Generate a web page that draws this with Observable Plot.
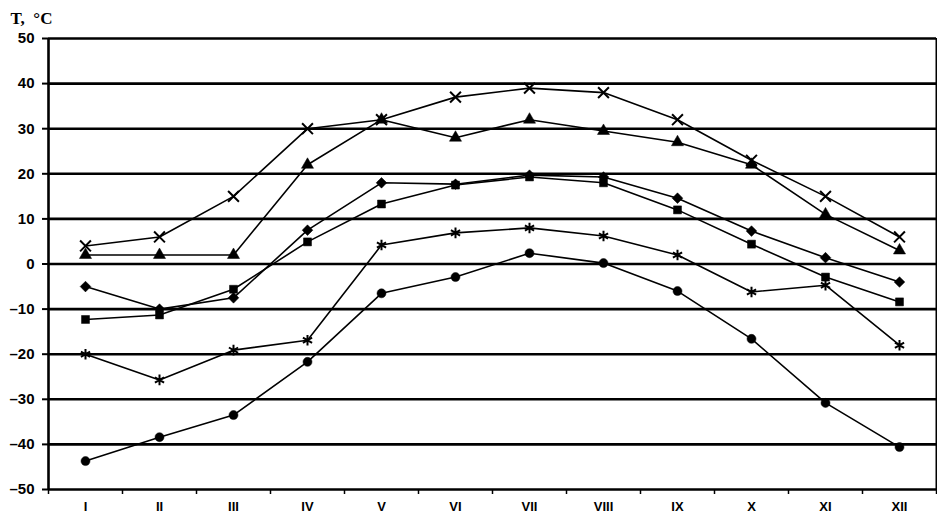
<!DOCTYPE html>
<html>
<head>
<meta charset="utf-8">
<script src="https://cdn.jsdelivr.net/npm/d3@7"></script>
<script src="https://cdn.jsdelivr.net/npm/@observablehq/plot@0.6"></script>
<style>
  html, body { margin: 0; padding: 0; background: #fff; }
  svg { display: block; }
</style>
</head>
<body>
<div id="chart"></div>
<script>
const months = ["I","II","III","IV","V","VI","VII","VIII","IX","X","XI","XII"];
const yTicks = [-50,-40,-30,-20,-10,0,10,20,30,40,50];
const timesSeries    = [4, 6, 15, 30, 32, 37, 39, 38, 32, 23, 15, 6];
const triangleSeries = [2, 2, 2, 22, 32, 28, 32, 29.5, 27, 22, 11, 3];
const diamondSeries  = [-5, -10, -7.5, 7.5, 18, 17.7, 19.7, 19.3, 14.6, 7.3, 1.4, -4];
const squareSeries   = [-12.3, -11.3, -5.6, 4.9, 13.3, 17.5, 19.3, 18, 12, 4.4, -2.9, -8.4];
const asteriskSeries = [-20, -25.7, -19.1, -16.9, 4.2, 6.9, 8, 6.2, 2, -6.2, -4.7, -18];
const circleSeries   = [-43.7, -38.4, -33.5, -21.7, -6.5, -2.9, 2.4, 0.2, -6, -16.6, -30.8, -40.6];

const seriesDefs = [
  {name: "times", values: timesSeries, symbol: "times", filled: false, r: 5},
  {name: "triangle", values: triangleSeries, symbol: "triangle", filled: true, r: 4.5},
  {name: "diamond", values: diamondSeries, symbol: "diamond2", filled: true, r: 4.8},
  {name: "square", values: squareSeries, symbol: "square", filled: true, r: 4.5},
  {name: "asterisk", values: asteriskSeries, symbol: "asterisk", filled: false, r: 5},
  {name: "circle", values: circleSeries, symbol: "circle", filled: true, r: 4.5}
];

const monthIdx = months.map((m, i) => i + 1);
const bounds = d3.range(0, 13).map(i => i + 0.5);

const marks = [];
// gridlines
marks.push(Plot.ruleY(yTicks, {stroke: "#000", strokeWidth: 2.6}));
// frame verticals
marks.push(Plot.ruleX([0.5], {stroke: "#000", strokeWidth: 2.6}));
marks.push(Plot.ruleX([12.5], {stroke: "#000", strokeWidth: 2}));

for (const s of seriesDefs) {
  const data = s.values.map((v, i) => ({m: i + 1, v}));
  marks.push(Plot.line(data, {x: "m", y: "v", stroke: "#000", strokeWidth: 1.6}));
  marks.push(Plot.dot(data, {
    x: "m", y: "v", symbol: () => s.symbol, r: s.r,
    fill: s.filled ? "#000" : "none",
    stroke: "#000", strokeWidth: s.filled ? 0.5 : 2
  }));
}

// axes
marks.push(Plot.axisY(yTicks, {
  tickSize: 6, tickPadding: 8, strokeWidth: 2,
  tickFormat: d => d < 0 ? "\u2013" + Math.abs(d) : String(d),
  fontSize: 15, fontWeight: "bold", label: null
}));
marks.push(Plot.axisX(bounds, {tickSize: 5, strokeWidth: 1.5, tickFormat: () => "", label: null}));
marks.push(Plot.axisX(monthIdx, {
  tickSize: 0, tickPadding: 12, tickFormat: i => months[i - 1],
  fontSize: 13, fontWeight: "bold", label: null
}));
// y title
marks.push(Plot.text(["T,  \u00B0C"], {
  frameAnchor: "top-left", dx: -38, dy: -27, textAnchor: "start",
  fontSize: 17, fontWeight: "bold", fontFamily: "Liberation Serif"
}));

const chart = Plot.plot({
  width: 937,
  height: 519,
  marginLeft: 48,
  marginRight: 1,
  marginTop: 38,
  marginBottom: 30,
  style: {fontFamily: "Liberation Sans, Arial, sans-serif", color: "#000", background: "#fff"},
  x: {domain: [0.5, 12.5]},
  y: {domain: [-50, 50]},
  symbol: {type: "identity"},
  marks
});
document.getElementById("chart").appendChild(chart);
</script>
</body>
</html>
